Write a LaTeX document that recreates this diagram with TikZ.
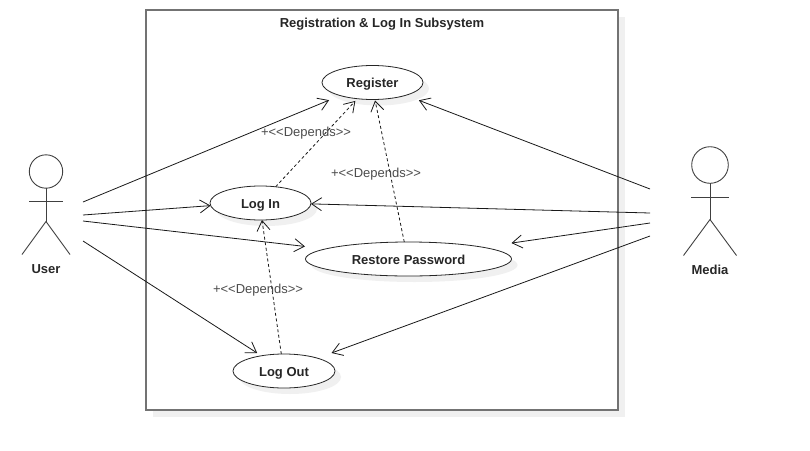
\documentclass[tikz,border=0pt]{standalone}
\usepackage{fontspec}
\setmainfont{Liberation Sans}
\usetikzlibrary{arrows.meta,shadows,shapes.geometric}
\tikzset{
  usecase/.style={ellipse,draw=black!85,line width=0.8pt,fill=white,inner sep=0pt,outer sep=0pt,font=\bfseries\fontsize{13}{15}\selectfont,text=black!85,text height=10.4pt,text depth=0pt,
    drop shadow={shadow xshift=6pt,shadow yshift=-6pt,fill=black!6,opacity=1}},
  assoc/.style={-{Straight Barb[length=10pt,width=13pt]},line width=0.8pt,black!90},
  depends/.style={assoc,dash pattern=on 3pt off 2.5pt},
  dependslabel/.style={text=black!70,font=\fontsize{13}{15}\selectfont,inner sep=0pt},
  actorline/.style={line width=0.9pt,black!75},
  actorlabel/.style={text=black!85,font=\bfseries\fontsize{13}{15}\selectfont,inner sep=0pt}
}
\begin{document}
\begin{tikzpicture}[x=1pt,y=-1pt]
            \useasboundingbox (0,0) rectangle (810,450);
            \draw [line width=1.3pt,draw=black!55,fill=white,drop shadow={shadow xshift=7pt,shadow yshift=-7pt,fill=black!6,opacity=1}] (146,10) rectangle (618,410);
            \node (title) [font=\bfseries\fontsize{13}{15}\selectfont,text=black!85,inner sep=0pt] at (382,24) {Registration \& Log In Subsystem};

            \node (register) [usecase,minimum width=101pt,minimum height=34pt] at (372.5,82.5) {Register};
            \node (login) [usecase,minimum width=101pt,minimum height=34pt] at (260.5,203) {Log In};
            \node (restore) [usecase,minimum width=206pt,minimum height=34pt] at (408.5,259) {Restore Password};
            \node (logout) [usecase,minimum width=102pt,minimum height=34pt] at (284,371) {Log Out};

            \node (userhead) [circle,draw=black!75,line width=0.9pt,minimum size=33.4pt,inner sep=0pt,outer sep=0pt] at (46,171.5) {};
            \coordinate (userarml) at (29,201);
            \coordinate (userarmr) at (63,201);
            \coordinate (userhip) at (46,221.5);
            \coordinate (userfootl) at (22,254.5);
            \coordinate (userfootr) at (70,254.5);
            \draw [actorline] (userhead) -- (userhip);
            \draw [actorline] (userarml) -- (userarmr);
            \draw [actorline] (userfootl) -- (userhip) -- (userfootr);
            \node (user) [actorlabel] at (46,269) {User};

            \node (mediahead) [circle,draw=black!75,line width=0.9pt,minimum size=36.6pt,inner sep=0pt,outer sep=0pt] at (710,165) {};
            \coordinate (mediaarml) at (691,197);
            \coordinate (mediaarmr) at (729,197);
            \coordinate (mediahip) at (710,219.5);
            \coordinate (mediafootl) at (683.5,255.5);
            \coordinate (mediafootr) at (736.5,255.5);
            \draw [actorline] (mediahead) -- (mediahip);
            \draw [actorline] (mediaarml) -- (mediaarmr);
            \draw [actorline] (mediafootl) -- (mediahip) -- (mediafootr);
            \node (media) [actorlabel] at (710,270) {Media};

            \coordinate (userregister) at (83,202);
            \coordinate (userlogin) at (83,215);
            \coordinate (userrestore) at (83,221);
            \coordinate (userlogout) at (83,241);
            \coordinate (mediaregister) at (650,189);
            \coordinate (medialogin) at (650,213);
            \coordinate (mediarestore) at (650,223);
            \coordinate (medialogout) at (650,236);

            \draw [assoc,shorten >=12pt] (userregister) -- (register.202);
            \draw [assoc] (userlogin) -- (login.183);
            \draw [assoc,shorten >=21pt] (userrestore) -- (restore.173);
            \draw [assoc,shorten >=5pt] (userlogout) -- (logout.146);
            \draw [assoc,shorten >=14pt] (mediaregister) -- (register.339);
            \draw [assoc] (medialogin) -- (login.359);
            \draw [assoc,shorten >=29pt] (mediarestore) -- (restore.9);
            \draw [assoc,shorten >=15pt] (medialogout) -- (logout.21);

            \draw [depends,shorten >=3pt] (login.47) -- (register.227);
            \draw [depends,shorten >=1pt] (restore.104) -- (register.278);
            \draw [depends] (logout.99) -- (login.275);

            \node (dependsa) [dependslabel] at (306,133) {+<{}<Depends>{}>};
            \node (dependsb) [dependslabel] at (376,174) {+<{}<Depends>{}>};
            \node (dependsc) [dependslabel] at (258,290) {+<{}<Depends>{}>};
          \end{tikzpicture}
\end{document}
